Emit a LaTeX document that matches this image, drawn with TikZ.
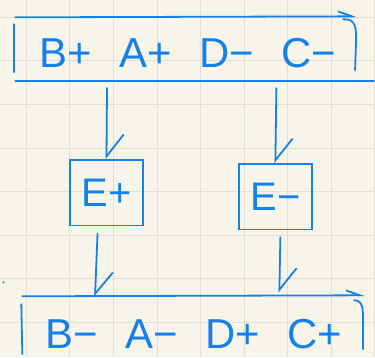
\documentclass[tikz,border=0pt]{standalone}
\usepackage{fontspec}
\setmainfont{Liberation Sans}
\usepackage{tikz}
\usetikzlibrary{arrows.meta,positioning}
\definecolor{ink}{HTML}{1480EA}
\definecolor{paper}{HTML}{F7F4E9}
\definecolor{rule}{HTML}{E2DED0}

\begin{document}
\begin{tikzpicture}[
  x=1pt,y=-1pt,
  node distance=0pt and 27pt,
  pen/.style={draw=ink,line width=1.8pt,line cap=round},
  term/.style={inner sep=0pt,text=ink,font=\fontsize{42}{42}\selectfont},
  gate/.style={rectangle,pen,minimum width=73pt,minimum height=66pt,
               inner sep=0pt,text=ink,font=\fontsize{40}{40}\selectfont},
  flow/.style={pen,-{Straight Barb[left,length=22pt,width=34pt]}},
  bar/.style={pen,-{Straight Barb[left,length=14pt,width=10pt]}}
]
  % paper
  \fill[paper] (0,0) rectangle (375,358);
  \foreach \k in {0,...,8}
    \draw[rule,line width=0.8pt] (26+43.7*\k,0) -- (26+43.7*\k,358);
  \foreach \k in {0,...,7}
    \draw[rule,line width=0.8pt] (0,17+43.7*\k) -- (375,17+43.7*\k);
  \useasboundingbox (0,0) rectangle (375,358);

  % first row
  \node[term] (bp) at (66,53) {B+};
  \node[term,right=of bp] (ap) {A+};
  \node[term,right=of ap] (dm) {D−};
  \node[term,right=of dm] (cm) {C−};
  \draw[bar] (15,17) -- (358,16);
  \draw[pen] (14,24) -- (14,72);
  \draw[pen] (344,19) .. controls (357,18) and (357,28) .. (357,40) -- (356,70);
  \draw[pen] (15,81) -- (375,81);
  \coordinate (a1) at (107,88);
  \coordinate (a2) at (277,88);

  % gates
  \node[gate] (ep) at (106.5,193) {E+};
  \node[gate] (em) at (276,197) {E−};

  % second row
  \node[term] (bm) at (72,335) {B−};
  \node[term,right=of bm] (am) {A−};
  \node[term,right=of am] (dp) {D+};
  \node[term,right=of dp] (cp) {C+};
  \draw[bar] (22,297) -- (366,296);
  \draw[pen] (21,305) -- (22,355);
  \draw[pen] (355,301) .. controls (364,301) and (364,310) .. (364,322) -- (364,350);
  \coordinate (b1) at (95,297);
  \coordinate (b2) at (280,293);
  \fill[ink] (3,283) circle (1.1pt);

  \draw[flow] (a1) -- (ep.north);
  \draw[flow] (a2) -- (em.north);
  \draw[flow] ([xshift=-9pt,yshift=-7pt]ep.south) -- (b1);
  \draw[flow] ([xshift=5pt,yshift=-7pt]em.south) -- (b2);
\end{tikzpicture}
\end{document}
